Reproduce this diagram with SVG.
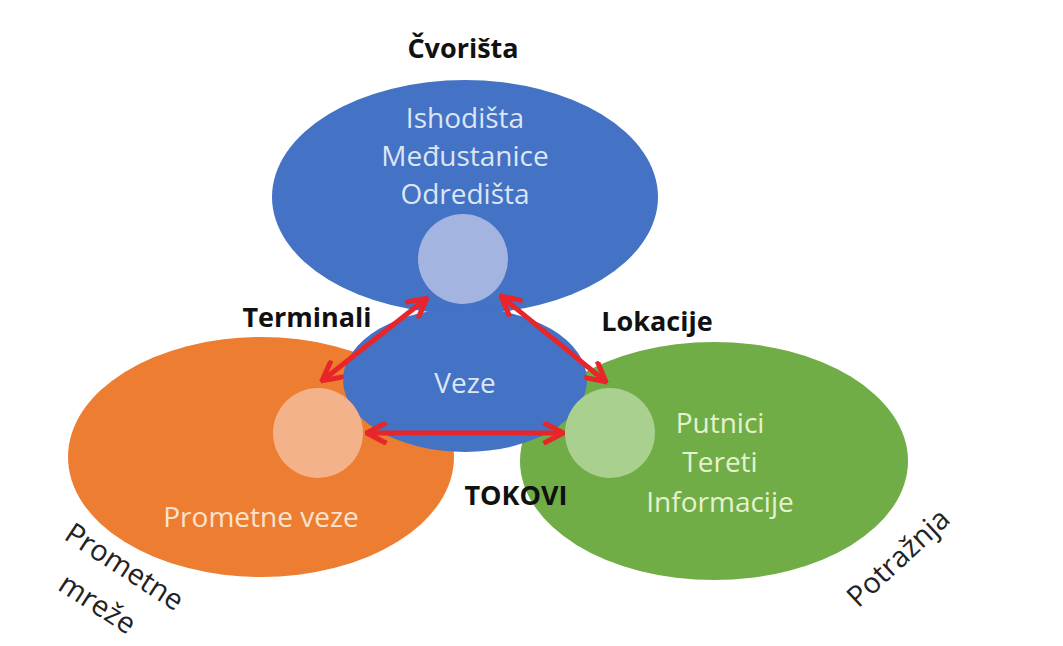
<svg xmlns="http://www.w3.org/2000/svg" width="1063" height="646" viewBox="0 0 1063 646">
<defs>
<style>
.lbl{font-family:"Open Sans","Liberation Sans",sans-serif;font-size:27px;font-weight:bold;fill:#111;text-anchor:middle}
.in{font-family:"Open Sans","Liberation Sans",sans-serif;font-size:28px;text-anchor:middle}
.side{font-family:"Open Sans","Liberation Sans",sans-serif;font-size:29px;fill:#222;text-anchor:middle}
.arr{stroke:#e8252b;stroke-width:5;fill:none;marker-start:url(#h);marker-end:url(#h)}
</style>
<marker id="h" viewBox="0 0 10 10" refX="8.5" refY="5" markerWidth="4.6" markerHeight="4.6" orient="auto-start-reverse" markerUnits="strokeWidth">
<path d="M0.5,0.5 L9,5 L0.5,9.5" fill="none" stroke="#e8252b" stroke-width="2.2"/>
</marker>
</defs>
<rect width="1063" height="646" fill="#ffffff"/>
<g id="orange">
<ellipse cx="261" cy="457" rx="193" ry="120" fill="#ed7d31"/>
</g>
<g id="green">
<ellipse cx="714" cy="461" rx="194" ry="119" fill="#70ad47"/>
</g>
<g id="top">
<ellipse cx="465" cy="197" rx="193" ry="117" fill="#4472c4"/>
</g>
<g id="veze">
<ellipse cx="465" cy="380" rx="122" ry="72" fill="#4472c4"/>
<text class="in" x="465" y="393" fill="#dce6f5">Veze</text>
</g>
<g id="circles">
<circle cx="463" cy="259" r="45" fill="#a4b4e0"/>
<circle cx="318" cy="433" r="45" fill="#f4b28a"/>
<circle cx="610" cy="433" r="45" fill="#a9d08e"/>
</g>
<g id="connectors">
<line class="arr" x1="323" y1="380" x2="426" y2="299"/>
<line class="arr" x1="502" y1="297" x2="605" y2="381"/>
<line class="arr" x1="368" y1="433" x2="562" y2="433"/>
</g>
<g id="top-text">
<text class="in" x="465" y="128" fill="#dce6f5">Ishodišta</text>
<text class="in" x="465" y="166" fill="#dce6f5">Međustanice</text>
<text class="in" x="465" y="204" fill="#dce6f5">Odredišta</text>
</g>
<g id="orange-text">
<text class="in" x="261" y="527" fill="#fbe3cf">Prometne veze</text>
</g>
<g id="green-text">
<text class="in" x="720" y="433" fill="#e6f2cf">Putnici</text>
<text class="in" x="720" y="472" fill="#e6f2cf">Tereti</text>
<text class="in" x="720" y="512" fill="#e6f2cf">Informacije</text>
</g>
<g id="labels">
<text class="lbl" x="463" y="58">Čvorišta</text>
<text class="lbl" x="307" y="327">Terminali</text>
<text class="lbl" x="657" y="331">Lokacije</text>
<text class="lbl" x="516" y="505">TOKOVI</text>
<text class="side" transform="translate(119,575) rotate(33)">Prometne</text>
<text class="side" transform="translate(92,612) rotate(33)">mreže</text>
<text class="side" transform="translate(905,565) rotate(-43)">Potražnja</text>
</g>
</svg>
